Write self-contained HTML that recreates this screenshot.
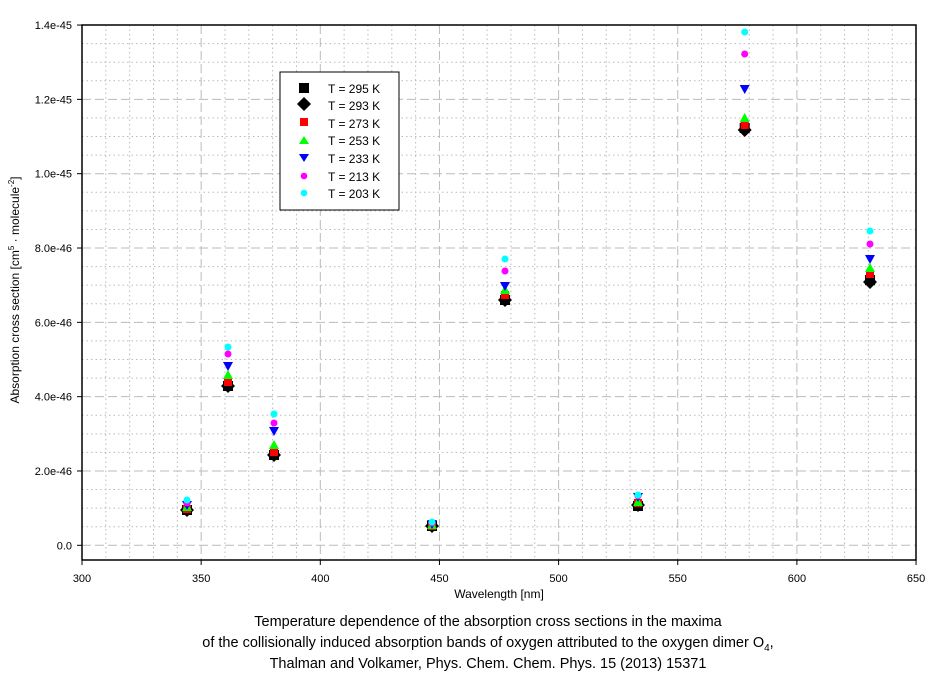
<!DOCTYPE html>
<html><head><meta charset="utf-8"><style>
body{margin:0;background:#fff;}
svg{display:block;font-family:"Liberation Sans",sans-serif;}
</style></head><body>
<svg width="942" height="676" viewBox="0 0 942 676" xmlns="http://www.w3.org/2000/svg">
<rect width="942" height="676" fill="#fff"/>
<g id="grid"></g>
<rect x="82" y="25" width="834" height="535" fill="none" stroke="#000" stroke-width="1.5"/>
<g id="ticks" font-size="11" fill="#000"></g>
<g id="pts"></g>
<rect x="280" y="72" width="119" height="138" fill="#fff" stroke="#000" stroke-width="1"/>
<g font-size="12">
<rect x="299" y="83" width="10" height="10" fill="#000"/><text x="328" y="93">T = 295 K</text>
<polygon points="304,97 311,104 304,111 297,104" fill="#000"/><text x="328" y="110">T = 293 K</text>
<rect x="300" y="118" width="8" height="8" fill="#f00"/><text x="328" y="128">T = 273 K</text>
<polygon points="304,136 309,144 299,144" fill="#0f0"/><text x="328" y="145">T = 253 K</text>
<polygon points="299,154 309,154 304,162" fill="#00f"/><text x="328" y="163">T = 233 K</text>
<circle cx="304" cy="176" r="3.3" fill="#f0f"/><text x="328" y="181">T = 213 K</text>
<circle cx="304" cy="193" r="3.3" fill="#0ff"/><text x="328" y="198">T = 203 K</text>
</g>
<text x="499" y="598" font-size="12" text-anchor="middle">Wavelength [nm]</text>
<text transform="translate(19,290) rotate(-90)" font-size="12" text-anchor="middle">Absorption cross section [cm<tspan dy="-5" font-size="8">5</tspan><tspan dy="5"> · molecule</tspan><tspan dy="-5" font-size="8">-2</tspan><tspan dy="5">]</tspan></text>
<g font-size="14.5" text-anchor="middle">
<text x="488" y="626">Temperature dependence of the absorption cross sections in the maxima</text>
<text x="488" y="647">of the collisionally induced absorption bands of oxygen attributed to the oxygen dimer O<tspan dy="4" font-size="10">4</tspan><tspan dy="-4">,</tspan></text>
<text x="488" y="668">Thalman and Volkamer, Phys. Chem. Chem. Phys. 15 (2013) 15371</text>
</g>
<script>
var ns="http://www.w3.org/2000/svg";
function el(p,t,a){var e=document.createElementNS(ns,t);for(var k in a)e.setAttribute(k,a[k]);p.appendChild(e);return e;}
var g=document.getElementById('grid'),tk=document.getElementById('ticks');
function X(w){return 82+(w-300)*2.383;}
function Y(v){return 545.3-v*37.16;}
for(var w=310;w<650;w+=10){var x=X(w);el(g,'line',{x1:x,x2:x,y1:25,y2:560,stroke:'#bbb','stroke-dasharray':(w%50?'1.5,3':'9,4'),'stroke-width':1});}
for(var v=0;v<14;v+=0.5){var y=Y(v);el(g,'line',{x1:82,x2:916,y1:y,y2:y,stroke:'#bbb','stroke-dasharray':(v%2?'1.5,3':'9,4'),'stroke-width':1});}
for(var w=300;w<=650;w+=50){var x=X(w);el(tk,'line',{x1:x,x2:x,y1:560,y2:565,stroke:'#000'});var t=el(tk,'text',{x:x,y:582,'text-anchor':'middle'});t.textContent=w;}
var yl=['0.0','2.0e-46','4.0e-46','6.0e-46','8.0e-46','1.0e-45','1.2e-45','1.4e-45'];
for(var i=0;i<8;i++){var y=Y(i*2);el(tk,'line',{x1:77,x2:82,y1:y,y2:y,stroke:'#000'});var t=el(tk,'text',{x:72,y:y+4,'text-anchor':'end'});t.textContent=yl[i];}
var P=document.getElementById('pts');
var data=[[187,[510,510,509,507,505,503,500]],[228,[386,386,382,375,366,354,347]],[274,[455,455,452,445,431,423,414]],[432,[526,526,526,525,524,523,522]],[505,[300,300,295,290,286,271,259]],[638,[506,505,503,502,497,496,495]],[744.7,[128,130,125,118,89,54,32]],[870,[280,282,274,268,259,244,231]]];
data.forEach(function(d){var x=d[0],y=d[1];
el(P,'rect',{x:x-5,y:y[0]-5,width:10,height:10,fill:'#000'});
el(P,'polygon',{points:(x)+','+(y[1]-7)+' '+(x+7)+','+y[1]+' '+x+','+(y[1]+7)+' '+(x-7)+','+y[1],fill:'#000'});
el(P,'rect',{x:x-4,y:y[2]-4,width:8,height:8,fill:'#f00'});
el(P,'polygon',{points:x+','+(y[3]-5)+' '+(x+5)+','+(y[3]+4)+' '+(x-5)+','+(y[3]+4),fill:'#0f0'});
el(P,'polygon',{points:(x-5)+','+(y[4]-4)+' '+(x+5)+','+(y[4]-4)+' '+x+','+(y[4]+5),fill:'#00f'});
el(P,'circle',{cx:x,cy:y[5],r:3.5,fill:'#f0f'});
el(P,'circle',{cx:x,cy:y[6],r:3.5,fill:'#0ff'});
});
</script>
</svg>
</body></html>
